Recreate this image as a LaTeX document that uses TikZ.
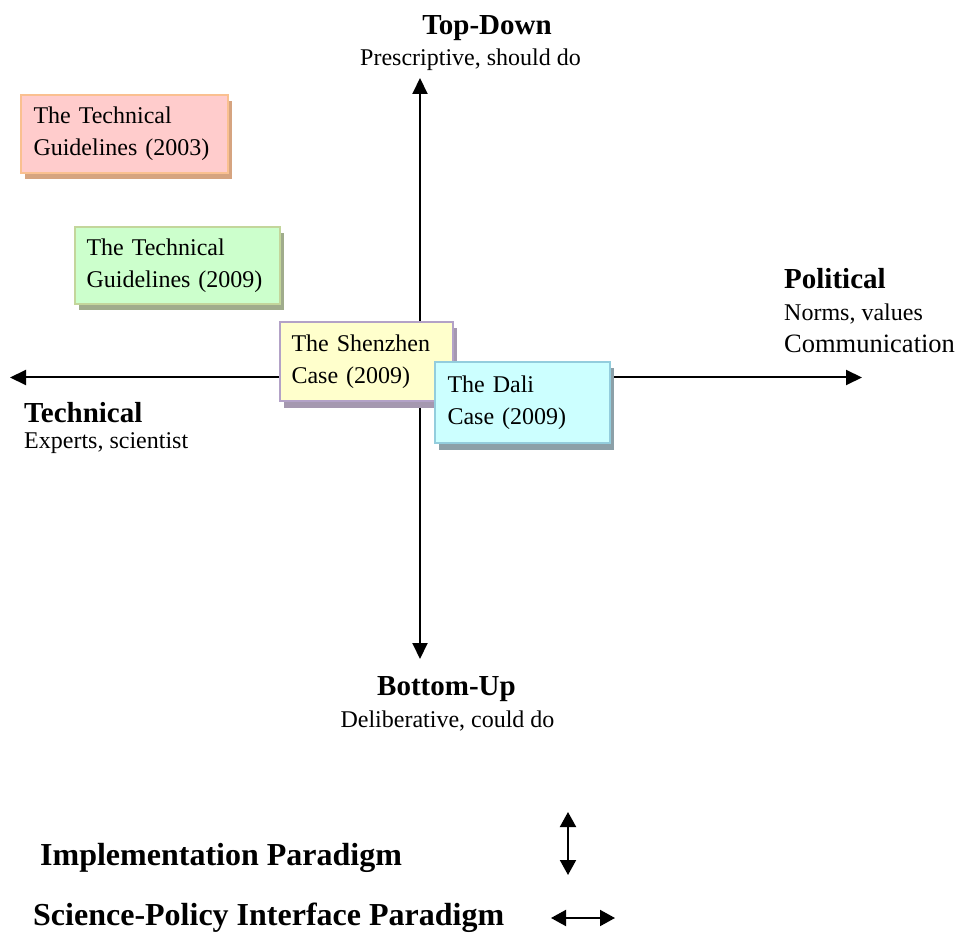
\documentclass[tikz,border=0pt]{standalone}
\usepackage{fontspec}
\setmainfont{Liberation Serif}
\usetikzlibrary{arrows.meta,shadows}
\definecolor{pkfill}{RGB}{255,204,204}
\definecolor{pkline}{RGB}{250,192,144}
\definecolor{pkshad}{RGB}{214,164,128}
\definecolor{gnfill}{RGB}{204,255,204}
\definecolor{gnline}{RGB}{195,214,155}
\definecolor{gnshad}{RGB}{160,172,140}
\definecolor{ylfill}{RGB}{255,255,204}
\definecolor{ylline}{RGB}{179,162,199}
\definecolor{ylshad}{RGB}{165,152,176}
\definecolor{cyfill}{RGB}{204,255,255}
\definecolor{cyline}{RGB}{147,205,221}
\definecolor{cyshad}{RGB}{140,160,168}
\tikzset{
  axisline/.style={line width=2pt,{Triangle[length=16pt,width=15pt]}-{Triangle[length=16pt,width=15pt]}},
  keyline/.style={line width=2pt,{Triangle[length=15pt,width=16pt]}-{Triangle[length=15pt,width=16pt]}},
  casebox/.style={rectangle,line width=2pt,anchor=north west,align=left,
    inner ysep=0pt,font=\fontsize{24}{32}\selectfont},
  head/.style={inner sep=0pt,font=\fontsize{29}{34}\selectfont\bfseries},
  sub/.style={inner sep=0pt,font=\fontsize{24}{28}\selectfont},
  keytext/.style={inner sep=0pt,anchor=base west,font=\fontsize{32}{38}\selectfont\bfseries},
  shad/.style={drop shadow={shadow xshift=3.5pt,shadow yshift=-6.5pt,opacity=1,fill=#1}}
}
\begin{document}
\begin{tikzpicture}[x=1pt,y=1pt]
\useasboundingbox (0,0) rectangle (959,-933);
% axes
\coordinate (vT) at (420,-78);
\coordinate (vB) at (420,-659);
\coordinate (hL) at (10,-377.5);
\coordinate (hR) at (862,-377.5);
\draw[axisline] (vB) -- (vT);
\draw[axisline] (hL) -- (hR);
% axis labels
\node[head,anchor=base] (td) at (487,-35) {Top-Down};
\node[sub,anchor=base] (tds) at (470.5,-66) {Prescriptive, should do};
\node[head,anchor=base west] (tech) at (24,-422) {Technical};
\node[sub,anchor=base west] (techs) at (24,-448) {Experts, scientist};
\node[head,anchor=base west] (pol) at (784,-289) {Political};
\node[sub,anchor=base west] (pols) at (784,-321) {Norms, values};
\node[inner sep=0pt,anchor=base west,font=\fontsize{26.5}{30}\selectfont] (polc) at (784,-353) {Communication};
\node[head,anchor=base] (bu) at (446.5,-695) {Bottom-Up};
\node[sub,anchor=base] (bus) at (447.5,-727) {Deliberative, could do};
% case boxes
\node[casebox,shad=pkshad,fill=pkfill,draw=pkline,inner xsep=12.5pt,text width=182pt,minimum height=78pt] (tg03) at (20,-94) {The Technical\\Guidelines (2003)};
\node[casebox,shad=gnshad,fill=gnfill,draw=gnline,inner xsep=11.5pt,text width=182pt,minimum height=77pt] (tg09) at (74,-226) {The Technical\\Guidelines (2009)};
\node[casebox,shad=ylshad,fill=ylfill,draw=ylline,inner xsep=11.5pt,text width=150pt,minimum height=79pt] (sz) at (279,-321) {The Shenzhen\\Case (2009)};
\node[casebox,shad=cyshad,fill=cyfill,draw=cyline,inner xsep=12.5pt,text width=150pt,minimum height=81pt] (dl) at (434,-361) {The Dali\\Case (2009)};
% legend
\node[keytext] (impl) at (40,-865) {Implementation Paradigm};
\node[keytext] (spi) at (33,-925) {Science-Policy Interface Paradigm};
\coordinate (kT) at (568,-812);
\coordinate (kB) at (568,-875);
\coordinate (kL) at (551,-918);
\coordinate (kR) at (615,-918);
\draw[keyline] (kT) -- (kB);
\draw[keyline] (kL) -- (kR);
\end{tikzpicture}
\end{document}
